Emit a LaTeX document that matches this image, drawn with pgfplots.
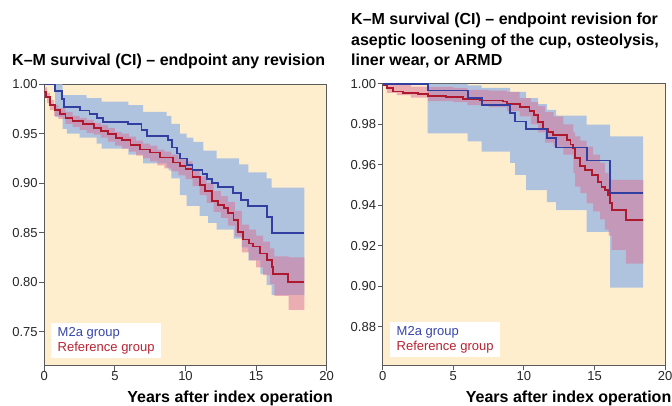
\documentclass[border=0pt]{standalone}
\usepackage{fontspec}
\setmainfont{Liberation Sans}
\usepackage{pgfplots}
\usepackage{pgfplotstable}
\pgfplotsset{compat=1.18}
\usepgfplotslibrary{fillbetween}

\definecolor{bg}{RGB}{254,238,205}
\definecolor{axisgray}{RGB}{90,90,90}
\definecolor{bandblue}{RGB}{176,195,222}
\definecolor{bandred}{RGB}{215,110,150}
\definecolor{lineblue}{RGB}{50,62,160}
\definecolor{linered}{RGB}{175,25,45}
\definecolor{txtblue}{RGB}{55,70,170}
\definecolor{txtred}{RGB}{185,35,50}

% left panel: any revision
\pgfplotstableread{
x up lo
0.76 1.000 0.967
1.30 0.989 0.955
1.60 0.989 0.950
2.50 0.989 0.946
3.00 0.986 0.946
3.70 0.986 0.940
4.06 0.9824 0.935
5.95 0.979 0.929
7.00 0.972 0.920
8.67 0.968 0.916
8.80 0.968 0.913
9.00 0.960 0.905
9.60 0.950 0.888
10.08 0.946 0.877
10.55 0.9418 0.877
11.00 0.9418 0.867
11.26 0.933 0.867
11.60 0.933 0.860
12.20 0.925 0.853
13.40 0.925 0.844
13.80 0.919 0.844
14.00 0.919 0.835
14.45 0.911 0.822
15.30 0.911 0.808
15.75 0.905 0.797
16.10 0.8955 0.787
18.42 0.8955 0.787
}\leftblueband

\pgfplotstableread{
x up lo
0.0 0.997 0.987
0.2 0.991 0.981
0.4 0.984 0.974
0.7 0.979 0.968
1.0 0.976 0.965
1.5 0.972 0.960
2.0 0.968 0.957
2.5 0.966 0.954
3.0 0.964 0.951
3.5 0.961 0.949
4.0 0.959 0.946
4.5 0.956 0.942
5.0 0.952 0.938
5.5 0.950 0.935
6.0 0.947 0.932
6.5 0.943 0.928
7.0 0.940 0.925
7.5 0.938 0.922
8.0 0.934 0.918
8.5 0.932 0.915
9.0 0.929 0.912
9.5 0.925 0.908
10.0 0.922 0.904
10.5 0.914 0.897
11.0 0.907 0.888
11.5 0.900 0.880
12.0 0.892 0.871
12.5 0.887 0.865
13.0 0.881 0.857
13.5 0.872 0.846
14.0 0.858 0.830
14.5 0.853 0.822
15.0 0.847 0.815
15.5 0.841 0.807
16.0 0.834 0.798
16.3 0.826 0.786
17.3 0.825 0.772
18.42 0.825 0.772
}\leftredband

% right panel: aseptic loosening etc.
\pgfplotstableread{
x up lo
3.19 1.000 0.9756
6.02 0.9993 0.9716
7.01 0.9980 0.9665
9.02 0.9960 0.9610
9.37 0.9960 0.9550
10.15 0.9930 0.9475
11.00 0.9900 0.9475
11.62 0.9871 0.9415
12.28 0.9843 0.9376
14.45 0.9799 0.9268
16.10 0.9741 0.8993
18.44 0.9741 0.8993
}\rightblueband

\pgfplotstableread{
x up lo
0.0 1.000 0.999
0.3 1.000 0.9955
1.0 0.9995 0.9945
2.0 0.9987 0.9932
3.2 0.9985 0.9915
5.0 0.998 0.991
6.0 0.997 0.9895
7.5 0.9967 0.9885
8.8 0.996 0.9865
9.7 0.993 0.984
10.5 0.991 0.980
11.0 0.989 0.976
11.5 0.986 0.971
12.1 0.984 0.969
12.8 0.980 0.965
13.5 0.976 0.956
13.62 0.974 0.9492
14.0 0.972 0.946
14.45 0.969 0.941
14.9 0.965 0.937
15.4 0.961 0.933
15.74 0.956 0.928
16.0 0.953 0.925
16.22 0.9525 0.918
17.23 0.9525 0.9112
18.46 0.9525 0.9112
}\rightredband

\pgfplotsset{
  kmaxis/.style={
    scale only axis, width=282.4pt, height=281.4pt, anchor=south west,
    xmin=0, xmax=20, xtick={0,5,10,15,20},
    axis background/.style={fill=bg},
    axis line style={draw=axisgray, line width=1.1pt},
    tick style={draw=axisgray, line width=0.9pt},
    tick align=outside, major tick length=5pt,
    xtick pos=bottom, ytick pos=left,
    /pgf/number format/assume math mode=true,
    every tick label/.append style={font=\fontsize{13}{15}\selectfont, text=black!85},
    xticklabel style={inner sep=1pt},
    yticklabel style={inner sep=1.5pt, /pgf/number format/fixed,
      /pgf/number format/fixed zerofill, /pgf/number format/precision=2},
  },
  band/.style={draw=none, const plot, forget plot},
  kmline/.style={const plot, line width=1.8pt, mark=none},
}

\newcommand{\titlefont}{\fontsize{16}{20.5}\selectfont\bfseries}
\newcommand{\legfont}{\fontsize{13}{15}\selectfont}

\begin{document}
\begin{tikzpicture}

\node[anchor=base west, inner sep=0pt, font=\titlefont] at (12pt,340pt)
  {K–M survival (CI) – endpoint any revision};
\node[anchor=base west, inner sep=0pt, font=\titlefont] at (351pt,381pt)
  {K–M survival (CI) – endpoint revision for};
\node[anchor=base west, inner sep=0pt, font=\titlefont] at (351pt,360.5pt)
  {aseptic loosening of the cup, osteolysis,};
\node[anchor=base west, inner sep=0pt, font=\titlefont] at (351pt,340pt)
  {liner wear, or ARMD};

\node[anchor=base east, inner sep=0pt, font=\titlefont] at (333pt,3.7pt)
  {Years after index operation};
\node[anchor=base east, inner sep=0pt, font=\titlefont] at (671.5pt,3.7pt)
  {Years after index operation};

% ---------- left panel
\begin{axis}[kmaxis, at={(44.3pt,40.3pt)},
  ymin=0.7155, ymax=1, ytick={0.75,0.8,0.85,0.9,0.95,1}]
  \addplot[band, name path=bu] table[x=x, y=up] {\leftblueband};
  \addplot[band, name path=bl] table[x=x, y=lo] {\leftblueband};
  \addplot[fill=bandblue, draw=none, forget plot] fill between[of=bu and bl];
  \addplot[band, name path=ru] table[x=x, y=up] {\leftredband};
  \addplot[band, name path=rl] table[x=x, y=lo] {\leftredband};
  \addplot[fill=bandred, fill opacity=0.5, draw=none, forget plot] fill between[of=ru and rl];

  % Reference group
  \addplot[kmline, color=linered] coordinates {
    (0,0.992) (0.1,0.987) (0.4,0.979) (0.76,0.974) (1.1,0.970) (1.5,0.966)
    (2.0,0.963) (2.76,0.9595) (3.5,0.956) (4.0,0.953) (4.5,0.950) (5.1,0.946)
    (5.5,0.944) (6.1,0.939) (6.8,0.934) (7.5,0.931) (8.2,0.926) (9.1,0.921)
    (9.6,0.917) (10.0,0.914) (10.5,0.906) (11.0,0.898) (11.4,0.892) (11.9,0.882)
    (12.3,0.878) (12.7,0.875) (13.0,0.870) (13.4,0.863) (13.74,0.851) (14.1,0.843)
    (14.5,0.839) (14.8,0.836) (15.28,0.829) (15.75,0.822) (16.1,0.815) (16.22,0.808)
    (17.28,0.800) (18.42,0.800)
  };
  % M2a group
  \addplot[kmline, color=lineblue] coordinates {
    (0,1.0) (0.76,0.9936) (1.25,0.985) (1.4,0.977) (2.53,0.9735) (3.2,0.970)
    (3.71,0.966) (4.18,0.962) (5.95,0.9595) (6.89,0.954) (7.25,0.948) (8.78,0.944)
    (9.02,0.936) (9.37,0.930) (9.61,0.925) (10.08,0.918) (10.5,0.9135) (11.2,0.9095)
    (11.5,0.904) (11.9,0.900) (12.3,0.8965) (13.39,0.8905) (13.95,0.8830)
    (14.45,0.8767) (15.75,0.8655) (16.10,0.850) (18.42,0.850)
  };

  \node[fill=white, anchor=south west, inner xsep=6.5pt, inner ysep=4pt,
        align=left, font=\legfont, xshift=6.7pt, yshift=7.4pt]
    at (rel axis cs:0,0)
    {\textcolor{txtblue}{M2a group}\\\textcolor{txtred}{Reference group}};
\end{axis}

% ---------- right panel
\begin{axis}[kmaxis, at={(382.7pt,40.7pt)},
  ymin=0.8609, ymax=1, ytick={0.88,0.9,0.92,0.94,0.96,0.98,1}]
  \addplot[band, name path=bu] table[x=x, y=up] {\rightblueband};
  \addplot[band, name path=bl] table[x=x, y=lo] {\rightblueband};
  \addplot[fill=bandblue, draw=none, forget plot] fill between[of=bu and bl];
  \addplot[band, name path=ru] table[x=x, y=up] {\rightredband};
  \addplot[band, name path=rl] table[x=x, y=lo] {\rightredband};
  \addplot[fill=bandred, fill opacity=0.5, draw=none, forget plot] fill between[of=ru and rl];

  % Reference group
  \addplot[kmline, color=linered] coordinates {
    (0,1.0) (0.1,0.9995) (0.3,0.998) (0.75,0.9962) (1.46,0.9954) (2.5,0.9950)
    (3.23,0.9942) (4.5,0.9937) (5.7,0.9926) (6.9,0.9918) (8.5,0.9913) (8.78,0.9900)
    (9.7,0.9885) (10.4,0.9865) (10.7,0.9845) (11.0,0.9810) (11.37,0.978)
    (11.73,0.9764) (12.08,0.9748) (13.03,0.9723) (13.3,0.970) (13.5,0.9682)
    (13.62,0.9632) (14.0,0.9595) (14.33,0.9574) (14.8,0.955) (15.27,0.9516)
    (15.5,0.949) (15.74,0.9475) (15.98,0.945) (16.1,0.941) (16.22,0.9376)
    (17.23,0.9327) (18.46,0.9327)
  };
  % M2a group
  \addplot[kmline, color=lineblue] coordinates {
    (0,1.0) (3.19,0.9967) (6.02,0.9929) (7.01,0.9896) (9.02,0.9855) (9.37,0.9814)
    (10.15,0.9776) (11.62,0.9731) (12.28,0.9686) (14.45,0.9621) (16.10,0.9460)
    (18.44,0.9460)
  };

  \node[fill=white, anchor=south west, inner xsep=6.5pt, inner ysep=4pt,
        align=left, font=\legfont, xshift=7.3pt, yshift=8pt]
    at (rel axis cs:0,0)
    {\textcolor{txtblue}{M2a group}\\\textcolor{txtred}{Reference group}};
\end{axis}

\pgfresetboundingbox
\path[use as bounding box] (0pt,0pt) rectangle (672pt,406pt);
\end{tikzpicture}
\end{document}
